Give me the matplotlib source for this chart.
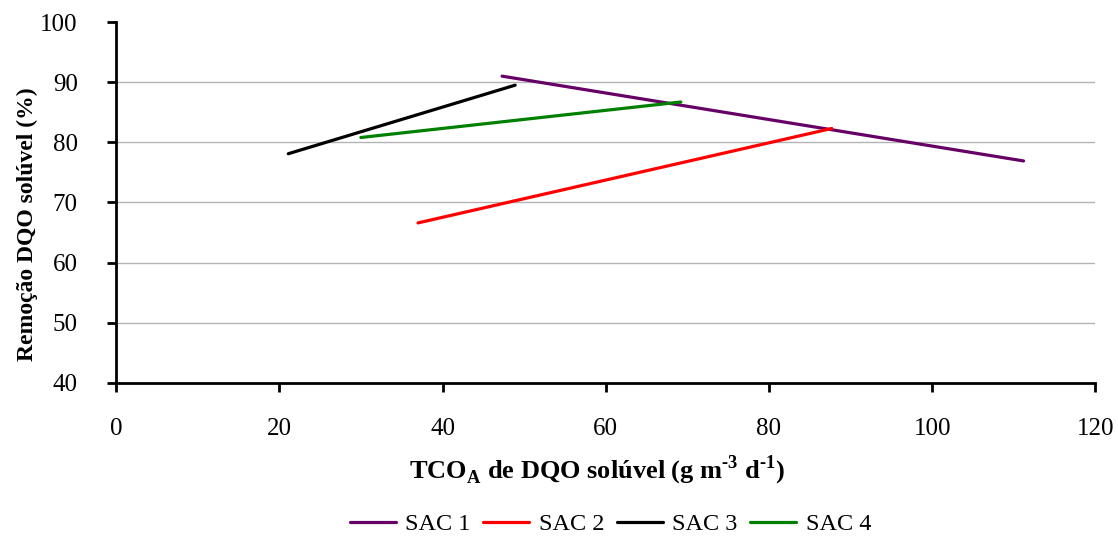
import matplotlib
matplotlib.use('Agg')
import matplotlib.pyplot as plt

plt.rcParams['font.family'] = ['Liberation Serif', 'DejaVu Serif']
plt.rcParams['mathtext.fontset'] = 'custom'
plt.rcParams['mathtext.rm'] = 'Liberation Serif'
plt.rcParams['mathtext.bf'] = 'Liberation Serif:bold'

# data
series_names = ['SAC 1', 'SAC 2', 'SAC 3', 'SAC 4']
sac1_x = [47.3, 111.2]
sac1_y = [91.0, 76.9]
sac2_x = [37.0, 87.7]
sac2_y = [66.6, 82.3]
sac3_x = [21.1, 48.9]
sac3_y = [78.1, 89.5]
sac4_x = [30.0, 69.2]
sac4_y = [80.8, 86.7]
colors = ['#660066', '#ff0000', '#000000', '#008000']

fig = plt.figure(figsize=(11.18, 5.37), dpi=100)
ax = fig.add_axes([0.1038, 0.287, 0.876, 0.672])

for xs, ys, name, c in zip([sac1_x, sac2_x, sac3_x, sac4_x],
                           [sac1_y, sac2_y, sac3_y, sac4_y],
                           series_names, colors):
    ax.plot(xs, ys, color=c, lw=2.3, label=name, solid_capstyle='round')

ax.set_xlim(0, 120)
ax.set_ylim(40, 100)
ax.set_xticks(range(0, 121, 20))
ax.set_yticks(range(40, 101, 10))
for yv in range(50, 100, 10):
    ax.axhline(yv, color='#b3b3b3', lw=1, zorder=0)
for s in ['top', 'right']:
    ax.spines[s].set_visible(False)
for s in ['left', 'bottom']:
    ax.spines[s].set_linewidth(2)
ax.tick_params(direction='out', width=2, length=6.5, labelsize=18)
ax.tick_params(axis='x', pad=19)
ax.tick_params(axis='y', pad=21)

ax.set_ylabel('Remoção DQO solúvel (%)', fontsize=17, fontweight='bold')
ax.yaxis.set_label_coords(-0.080, 0.44)
ax.set_xlabel('TCO$_\\mathbf{A}$ de DQO solúvel (g m$^{\\mathbf{\u20103}}$ d$^{\\mathbf{\u20101}}$)',
              fontsize=19, fontweight='bold')
ax.xaxis.set_label_coords(0.491, -0.195)

fig.legend(loc='center', bbox_to_anchor=(0.546, 0.024), ncol=4, frameon=False,
           fontsize=17.5, handlelength=1.9, columnspacing=0.5, handletextpad=0.4)

fig.savefig('out.png', dpi=100)
